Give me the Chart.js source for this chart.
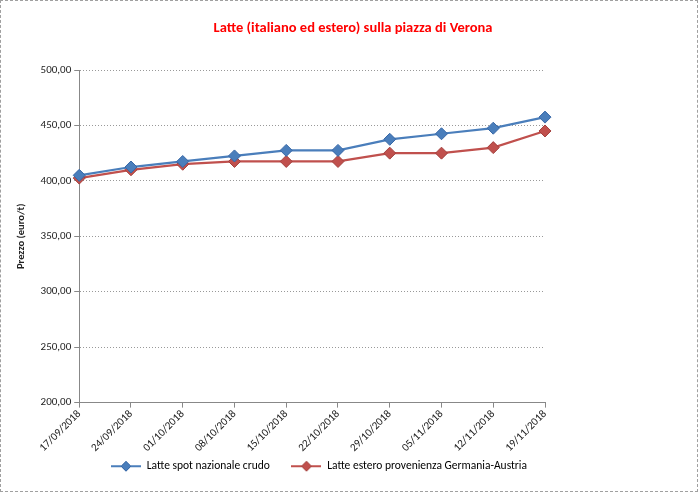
<!DOCTYPE html>
<html>
<head>
<meta charset="utf-8">
<script src="https://cdn.jsdelivr.net/npm/chart.js@4"></script>
<style>
    html, body { margin: 0; padding: 0; background: #fff; }
    #box {
        position: relative;
        width: 696px;
        height: 490px;
        border: 1px dashed #a0a0a0;
    }
</style>
</head>
<body>
<div id="box"><canvas id="grafico" width="696" height="490"></canvas></div>
<script>
const date = ['17/09/2018', '24/09/2018', '01/10/2018', '08/10/2018', '15/10/2018',
    '22/10/2018', '29/10/2018', '05/11/2018', '12/11/2018', '19/11/2018'];
const latteNazionale = [405, 412.5, 417.5, 422.5, 427.5, 427.5, 437.5, 442.5, 447.5, 457.5];
const latteEstero = [402.5, 410, 415, 417.5, 417.5, 417.5, 425, 425, 430, 445];
const nomiSerie = ['Latte spot nazionale crudo', 'Latte estero provenienza Germania-Austria'];
const titolo = 'Latte (italiano ed estero) sulla piazza di Verona';

const fontBase = "Carlito, 'Liberation Sans Narrow', 'DejaVu Sans Condensed', 'Open Sans', sans-serif";

const blu = '#4A7EBB';
const bluBordo = '#3767A6';
const rosso = '#C0504D';
const rossoBordo = '#A3403D';

// icona della legenda: linea con rombo
const iconaLegenda = (colore, bordo) => {
    const c = document.createElement('canvas');
    c.width = 30;
    c.height = 12;
    const ctx = c.getContext('2d');
    ctx.strokeStyle = colore;
    ctx.lineWidth = 2;
    ctx.beginPath();
    ctx.moveTo(0, 6);
    ctx.lineTo(30, 6);
    ctx.stroke();
    ctx.fillStyle = colore;
    ctx.strokeStyle = bordo;
    ctx.lineWidth = 1;
    ctx.beginPath();
    ctx.moveTo(15, 1);
    ctx.lineTo(20, 6);
    ctx.lineTo(15, 11);
    ctx.lineTo(10, 6);
    ctx.closePath();
    ctx.fill();
    ctx.stroke();
    return c;
};

const icone = [iconaLegenda(blu, bluBordo), iconaLegenda(rosso, rossoBordo)];

// titolo centrato sull'intera immagine
const pluginTitolo = {
    id: 'titoloCentrato',
    beforeInit: (chart) => {
        // legenda un po' più bassa senza togliere spazio al grafico
        const legenda = chart.legend;
        if (!legenda) return;
        const fitOriginale = legenda.fit.bind(legenda);
        legenda.fit = () => {
            fitOriginale();
            legenda.height -= 3;
        };
    },
    afterDraw: (chart) => {
        const ctx = chart.ctx;
        ctx.save();
        ctx.font = `bold 14.5px ${fontBase}`;
        ctx.fillStyle = '#FF0000';
        ctx.textAlign = 'center';
        ctx.textBaseline = 'middle';
        ctx.fillText(titolo, chart.width / 2 + 4, 27);
        ctx.restore();
    }
};

new Chart(document.getElementById('grafico'), {
    type: 'line',
    data: {
        labels: date,
        datasets: [
            {
                label: nomiSerie[0],
                data: latteNazionale,
                borderColor: blu,
                backgroundColor: blu,
                borderWidth: 2.25,
                pointStyle: 'rectRot',
                pointRadius: 6,
                pointBorderColor: bluBordo,
                pointBorderWidth: 1,
                tension: 0
            },
            {
                label: nomiSerie[1],
                data: latteEstero,
                borderColor: rosso,
                backgroundColor: rosso,
                borderWidth: 2.25,
                pointStyle: 'rectRot',
                pointRadius: 6,
                pointBorderColor: rossoBordo,
                pointBorderWidth: 1,
                tension: 0
            }
        ]
    },
    plugins: [pluginTitolo],
    options: {
        responsive: false,
        animation: false,
        layout: {
            padding: { left: 14, right: 74, top: 69, bottom: 12 }
        },
        plugins: {
            title: { display: false },
            legend: {
                position: 'bottom',
                labels: {
                    color: '#222',
                    font: { family: fontBase, size: 11.5 },
                    usePointStyle: true,
                    pointStyleWidth: 30,
                    boxHeight: 12,
                    padding: 6,
                    generateLabels: (chart) => chart.data.datasets.map((ds, i) => ({
                        text: i === 0 ? ds.label + '      ' : ds.label,
                        pointStyle: icone[i],
                        fillStyle: ds.borderColor,
                        strokeStyle: ds.borderColor,
                        lineWidth: 0,
                        datasetIndex: i,
                        hidden: false
                    }))
                }
            },
            tooltip: { enabled: false }
        },
        scales: {
            x: {
                offset: false,
                grid: {
                    display: true,
                    drawOnChartArea: false,
                    tickLength: 5,
                    color: '#888'
                },
                border: { display: true, color: '#888', width: 1 },
                ticks: {
                    color: '#222',
                    font: { family: fontBase, size: 11 },
                    minRotation: 45,
                    maxRotation: 45,
                    autoSkip: false,
                    padding: 0
                }
            },
            y: {
                min: 200,
                max: 500,
                title: {
                    display: true,
                    text: 'Prezzo (euro/t)',
                    color: '#222',
                    font: { family: fontBase, size: 10.5, weight: 'bold' },
                    padding: { top: 0, bottom: 10 }
                },
                grid: {
                    color: '#999',
                    tickLength: 5,
                    tickColor: '#888'
                },
                border: { display: true, color: '#888', width: 1, dash: [1, 2] },
                ticks: {
                    stepSize: 50,
                    color: '#222',
                    font: { family: fontBase, size: 11 },
                    padding: 3,
                    callback: (v) => v.toFixed(2).replace('.', ',')
                }
            },
            // asse vuoto a destra per lasciare lo spazio bianco
            spazio: {
                position: 'right',
                display: true,
                grid: { display: false },
                border: { display: false },
                ticks: { display: false },
                afterFit: (scala) => { scala.width = 78; }
            }
        }
    }
});
</script>
</body>
</html>
